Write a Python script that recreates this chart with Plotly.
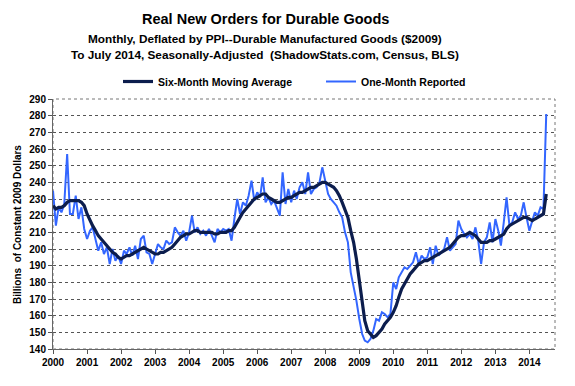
import pandas as pd
import plotly.graph_objects as go

# ---- data (billions of constant 2009 dollars), monthly Jan 2000 .. Jul 2014 ----
months = pd.date_range("2000-01-01", "2014-07-01", freq="MS")

one_month_reported = [
    235, 214, 225, 222, 227, 257, 221, 221, 232, 218, 225, 212,  # 2000
    206, 211, 213, 206, 199, 204, 197, 201, 191, 200, 193, 196,  # 2001
    191, 199, 197, 201, 196, 202, 194, 206, 208, 198, 197, 191,  # 2002
    197, 203, 201, 200, 205, 203, 204, 213, 210, 208, 211, 205,  # 2003
    210, 220, 210, 213, 209, 211, 208, 212, 208, 204, 212, 210,  # 2004
    212, 211, 212, 205, 218, 230, 221, 228, 226, 232, 241, 229,  # 2005
    234, 231, 243, 228, 231, 227, 229, 225, 220, 246, 227, 236,  # 2006
    228, 235, 230, 237, 240, 233, 246, 233, 236, 237, 240, 249,  # 2007
    240, 233, 230, 228, 226, 222, 219, 210, 204, 186, 178, 169,  # 2008
    158, 149, 145, 144, 146, 151, 158, 157, 162, 161, 159, 161,  # 2009
    180, 176, 183, 186, 189, 188, 190, 192, 198, 191, 196, 194,  # 2010
    195, 201, 191, 202, 196, 198, 200, 207, 199, 201, 203, 217,  # 2011
    212, 209, 207, 209, 206, 213, 205, 191, 204, 207, 216, 204,  # 2012
    218, 211, 202, 216, 231, 214, 216, 222, 218, 220, 228, 219,  # 2013
    211, 217, 222, 220, 225, 224, 281,                           # 2014
]

six_month_average = [
    226, 224, 225, 225, 226, 228, 229, 229, 229, 229, 228, 226,  # 2000
    221, 217, 214, 211, 208, 206, 204, 202, 200, 198, 197, 195,  # 2001
    194, 195, 196, 196, 197, 198, 199, 200, 201, 200, 199, 198,  # 2002
    197, 197, 198, 198, 199, 200, 201, 203, 205, 207, 208, 209,  # 2003
    209, 210, 211, 211, 210, 210, 210, 210, 210, 209, 209, 210,  # 2004
    210, 210, 211, 211, 213, 216, 219, 222, 224, 226, 228, 230,  # 2005
    231, 232, 233, 233, 231, 230, 229, 228, 228, 229, 230, 231,  # 2006
    231, 232, 233, 234, 234, 235, 236, 237, 237, 238, 239, 240,  # 2007
    240, 239, 238, 237, 235, 232, 228, 224, 219, 211, 204, 194,  # 2008
    180, 167, 157, 151, 149, 147, 148, 150, 152, 155, 157, 159,  # 2009
    162, 166, 171, 176, 179, 182, 185, 187, 189, 191, 192, 193,  # 2010
    193, 194, 195, 196, 197, 198, 199, 200, 201, 203, 205, 207,  # 2011
    208, 208, 209, 210, 209, 208, 206, 204, 204, 204, 205, 205,  # 2012
    206, 207, 208, 209, 212, 214, 215, 216, 217, 218, 219, 219,  # 2013
    218, 217, 218, 219, 220, 221, 233,                           # 2014
]

year_ticks = [f"{y}-01-01" for y in range(2000, 2015)]
year_labels = [str(y) for y in range(2000, 2015)]

FONT = "Arial, Liberation Sans, sans-serif"
OFF = 8                      # page body margin offset
W, H = 575 - OFF, 386 - OFF  # figure size inside the window
# plot area in window pixels: x 53..555, y 99..349
L, R, T, B = 53 - OFF, 575 - 555, 99 - OFF, 386 - 349
PW, PH = W - L - R, H - T - B


def px_x(x):  # window pixel -> paper x
    return (x - OFF - L) / PW


def px_y(y):  # window pixel -> paper y
    return (H - B - (y - OFF)) / PH


fig = go.Figure()
fig.add_trace(go.Scatter(
    x=months, y=one_month_reported, mode="lines", name="One-Month Reported",
    line=dict(color="#3366ff", width=2),
))
fig.add_trace(go.Scatter(
    x=months, y=six_month_average, mode="lines", name="Six-Month Moving Average",
    line=dict(color="#0c1d4d", width=3.2),
))

fig.update_layout(
    width=W, height=H,
    margin=dict(l=L, r=R, t=T, b=B),
    paper_bgcolor="white", plot_bgcolor="white",
    font=dict(family=FONT, color="black"),
    showlegend=True,
    legend=dict(
        orientation="h", traceorder="reversed",
        x=px_x(118), y=px_y(67), xanchor="left", yanchor="top",
        font=dict(size=10.5, family=FONT, weight="bold"),
        entrywidth=158, entrywidthmode="pixels",
        bgcolor="rgba(0,0,0,0)", itemwidth=30,
    ),
    xaxis=dict(
        type="date", range=["2000-01-01", "2014-10-03"],
        tickvals=year_ticks, ticktext=year_labels,
        ticks="outside", ticklen=4, tickcolor="#555",
        showgrid=False, showline=True, linecolor="#666", linewidth=1,
        tickfont=dict(size=10, family=FONT, weight="bold"),
        zeroline=False,
    ),
    yaxis=dict(
        range=[140, 290], dtick=10, tick0=140,
        ticks="outside", ticklen=4, tickcolor="#555",
        showgrid=True, gridcolor="#555", griddash="dot", gridwidth=1,
        showline=True, linecolor="#666", linewidth=1,
        tickfont=dict(size=10, family=FONT, weight="bold"),
        zeroline=False,
    ),
)

# plot frame
fig.add_shape(type="rect", xref="paper", yref="paper", x0=0, x1=1, y0=0, y1=1,
              line=dict(color="#777", width=1, dash="dot"), layer="below")

# titles
titles = [
    ("Real New Orders for Durable Goods", 19, 14.5),
    ("Monthly, Deflated by PPI--Durable Manufactured Goods ($2009)", 39, 11.8),
    ("To July 2014, Seasonally-Adjusted  (ShadowStats.com, Census, BLS)", 55, 11.8),
]
for text, ypix, size in titles:
    fig.add_annotation(text=text, xref="paper", yref="paper", x=px_x(265), y=px_y(ypix),
                       xanchor="center", yanchor="middle", showarrow=False,
                       font=dict(size=size, family=FONT, weight="bold", color="black"))

fig.add_annotation(text="Billions  of Constant 2009 Dollars", xref="paper", yref="paper",
                   x=px_x(17.5), y=px_y(224.5), xanchor="center", yanchor="middle",
                   textangle=-90, showarrow=False,
                   font=dict(size=10, family=FONT, weight="bold", color="black"))

fig.write_html("out.html")
